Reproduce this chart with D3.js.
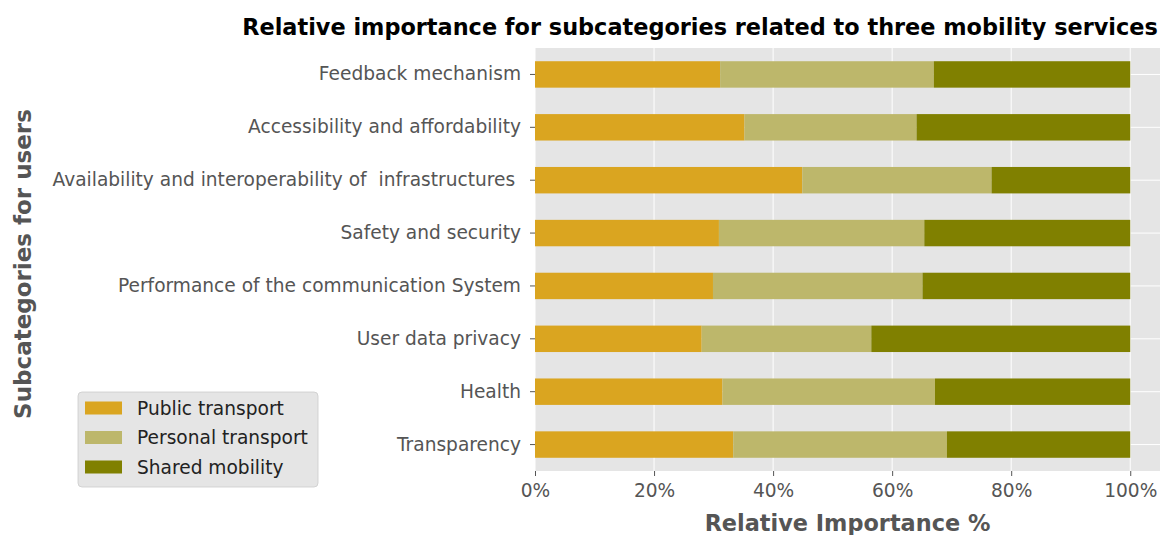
<!DOCTYPE html>
<html><head><meta charset="utf-8">
<script src="https://cdn.jsdelivr.net/npm/d3@7"></script>
<style>body{margin:0;background:#fff;} text{font-family:"DejaVu Sans",sans-serif;}</style>
</head><body><svg id="c" width="1162" height="535"></svg>
<script>
const categories = ["Feedback mechanism","Accessibility and affordability","Availability and interoperability of  infrastructures ","Safety and security","Performance of the communication System","User data privacy","Health","Transparency"];
const publicTransport = [0.311,0.352,0.449,0.309,0.299,0.280,0.315,0.333];
const personalTransport = [0.359,0.289,0.318,0.345,0.352,0.285,0.357,0.359];
const sharedMobility = [0.330,0.359,0.233,0.346,0.349,0.435,0.328,0.308];
const seriesNames = ["Public transport","Personal transport","Shared mobility"];
const seriesColors = ["#DAA520","#BDB76B","#808000"];
const xTicks = [0,0.2,0.4,0.6,0.8,1.0];

const svg = d3.select("#c");
const L=535, R=1160, T=48, B=471;
const x = d3.scaleLinear().domain([0,1.05]).range([L,R]);
const y = d3.scaleBand().domain(categories).range([T,B]).paddingInner(0.5).paddingOuter(0.25);
svg.append("rect").attr("x",L).attr("y",T).attr("width",R-L).attr("height",B-T).attr("fill","#E5E5E5");
// grid
svg.append("g").selectAll("line").data(xTicks).join("line")
  .attr("x1",d=>x(d)).attr("x2",d=>x(d)).attr("y1",T).attr("y2",B).attr("stroke","#fff").attr("stroke-width",1);
svg.append("g").selectAll("line").data(categories).join("line")
  .attr("x1",L).attr("x2",R).attr("y1",d=>y(d)+y.bandwidth()/2).attr("y2",d=>y(d)+y.bandwidth()/2).attr("stroke","#fff").attr("stroke-width",1);
// stacks
const rows = categories.map((c,i)=>({cat:c,"Public transport":publicTransport[i],"Personal transport":personalTransport[i],"Shared mobility":sharedMobility[i]}));
const stacked = d3.stack().keys(seriesNames)(rows);
svg.append("g").selectAll("g").data(stacked).join("g").attr("fill",(d,i)=>seriesColors[i])
  .selectAll("rect").data(d=>d).join("rect")
  .attr("x",d=>x(d[0])).attr("width",d=>x(d[1])-x(d[0]))
  .attr("y",d=>y(d.data.cat)).attr("height",y.bandwidth());
// axes
const xa = svg.append("g").attr("transform",`translate(0,${B})`)
  .call(d3.axisBottom(x).tickValues(xTicks).tickFormat(d3.format(".0%")).tickSize(5).tickPadding(8));
const ya = svg.append("g").attr("transform",`translate(${L},0)`)
  .call(d3.axisLeft(y).tickSize(5).tickPadding(9));
[xa,ya].forEach(a=>{a.select(".domain").remove();
  a.selectAll(".tick line").attr("stroke","#555");
  a.selectAll(".tick text").attr("fill","#555").style("font-size","18.6px").style("font-family","DejaVu Sans");});
ya.selectAll(".tick text").attr("xml:space","preserve").style("white-space","pre");
// labels
svg.append("text").attr("x",700).attr("y",35).attr("text-anchor","middle").attr("font-weight","bold").style("font-size","22.4px").attr("fill","#000")
  .text("Relative importance for subcategories related to three mobility services");
svg.append("text").attr("x",(L+R)/2).attr("y",531).attr("text-anchor","middle").attr("font-weight","bold").style("font-size","22.4px").attr("fill","#555")
  .text("Relative Importance %");
svg.append("text").attr("transform",`translate(31,${264}) rotate(-90)`).attr("text-anchor","middle").attr("font-weight","bold").style("font-size","23px").attr("fill","#555")
  .text("Subcategories for users");
// legend
const lg = svg.append("g").attr("transform","translate(78,392)");
lg.append("rect").attr("width",240).attr("height",95).attr("rx",4).attr("fill","#E5E5E5").attr("stroke","#ccc").attr("stroke-width",0.8);
seriesNames.forEach((s,i)=>{
  lg.append("rect").attr("x",7).attr("y",9.5+i*29.5).attr("width",37).attr("height",13).attr("fill",seriesColors[i]);
  lg.append("text").attr("x",59).attr("y",22.5+i*29.5).attr("fill","#222").style("font-size","18.6px").text(s);
});
</script></body></html>
